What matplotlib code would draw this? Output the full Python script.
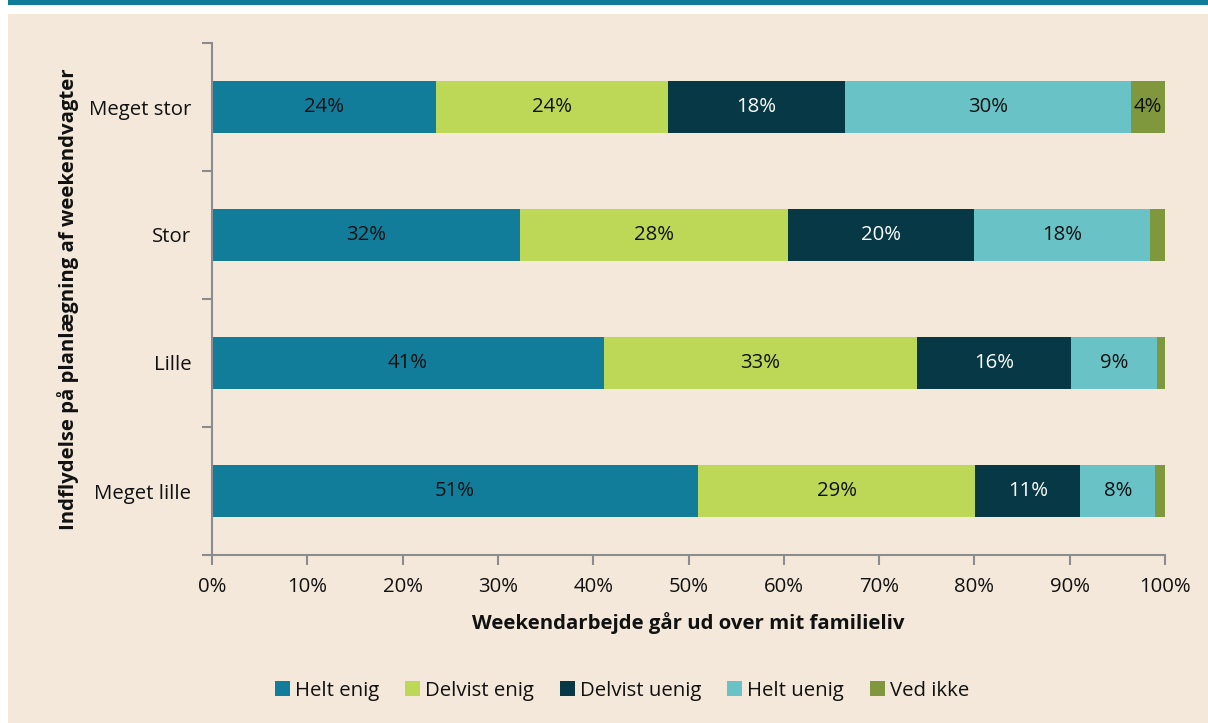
import matplotlib
matplotlib.use("Agg")
import matplotlib.pyplot as plt
from matplotlib.patches import Rectangle
import numpy as np

plt.rcParams['font.family'] = ['Open Sans', 'DejaVu Sans']

categories = ["Meget stor", "Stor", "Lille", "Meget lille"]
series = ["Helt enig", "Delvist enig", "Delvist uenig", "Helt uenig", "Ved ikke"]
helt_enig = [23.5, 32.3, 41.1, 51.0]
delvist_enig = [24.4, 28.1, 32.9, 29.1]
delvist_uenig = [18.5, 19.6, 16.1, 11.0]
helt_uenig = [30.0, 18.4, 9.1, 7.9]
ved_ikke = [3.6, 1.6, 0.8, 1.0]
xtick_labels = ["0%", "10%", "20%", "30%", "40%", "50%", "60%", "70%", "80%", "90%", "100%"]

colors = ["#117D9B", "#BDD857", "#073845", "#69C2C5", "#7F973D"]
label_colors = ["#111111", "#111111", "#FFFFFF", "#111111", "#111111"]
values = [helt_enig, delvist_enig, delvist_uenig, helt_uenig, ved_ikke]

FS = 14.7
W, H = 1208, 723
fig = plt.figure(figsize=(W / 100, H / 100), dpi=100)
fig.patch.set_facecolor("white")
# background panel and top band
fig.patches.append(Rectangle((8 / W, 0), 1 - 8 / W, 1 - 14 / H, transform=fig.transFigure,
                             facecolor="#F4E8DB", edgecolor="none", zorder=-10))
fig.patches.append(Rectangle((8 / W, 1 - 5 / H), 1 - 8 / W, 5 / H, transform=fig.transFigure,
                             facecolor="#0F7D9A", edgecolor="none", zorder=-10))

ax = fig.add_axes([212 / W, 1 - 555 / H, (1165 - 212) / W, (555 - 43) / H])
ax.set_facecolor("none")
ax.set_zorder(1)

y = np.arange(len(categories))
left = np.zeros(len(categories))
for name, vals, c, tc in zip(series, values, colors, label_colors):
    vals = np.array(vals)
    ax.barh(y, vals, left=left, height=0.406, color=c, label=name, zorder=2)
    for yi, l, v in zip(y, left, vals):
        if v >= 3:
            ax.text(l + v / 2, yi, f"{round(v):.0f}%", ha="center", va="center",
                    fontsize=FS, color=tc, zorder=3)
    left += vals

ax.set_xlim(0, 100)
ax.set_ylim(3.5, -0.5)
ax.set_xticks(np.arange(0, 101, 10))
ax.set_xticklabels(xtick_labels, fontsize=FS, color="#111111")
ax.set_yticks(y)
ax.set_yticklabels(categories, fontsize=FS, color="#111111")
ax.set_yticks(np.arange(-0.5, 3.6, 1), minor=True)
ax.tick_params(axis="y", which="major", length=0, pad=15)
ax.tick_params(axis="y", which="minor", length=7, width=1.5, color="#8C8C8C")
ax.tick_params(axis="x", length=7, width=1.5, color="#8C8C8C", pad=9)
for s in ["top", "right"]:
    ax.spines[s].set_visible(False)
for s in ["left", "bottom"]:
    ax.spines[s].set_color("#8C8C8C")
    ax.spines[s].set_linewidth(1.5)

ax.set_xlabel("Weekendarbejde går ud over mit familieliv", fontsize=FS,
              fontweight="bold", color="#111111", labelpad=11)
fig.text(68 / W, 1 - 299 / H, "Indflydelse på planlægning af weekendvagter", rotation=90,
         ha="center", va="center", fontsize=FS, fontweight="bold", color="#111111")

handles, labels = ax.get_legend_handles_labels()
fig.legend(handles, labels, loc="center", bbox_to_anchor=(622 / W, 1 - 691 / H), ncol=5,
           frameon=False, fontsize=FS, handlelength=0.75, handleheight=0.75,
           handletextpad=0.25, columnspacing=1.25, labelcolor="#111111")

fig.savefig("out.png", dpi=100, facecolor=fig.get_facecolor())
